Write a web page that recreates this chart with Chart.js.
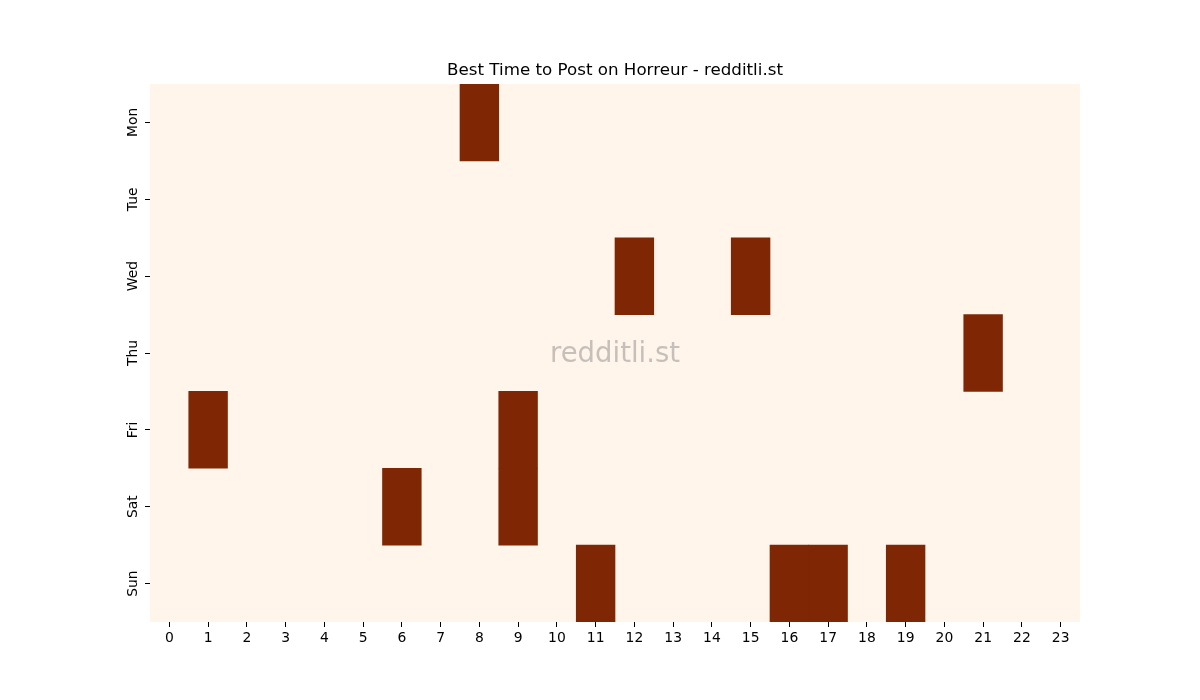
<!DOCTYPE html>
<html>
<head>
<meta charset="utf-8">
<script src="https://cdn.jsdelivr.net/npm/chart.js@4/dist/chart.umd.min.js"></script>
<style>
  html, body { margin: 0; padding: 0; background: #fff; }
  #wrap { width: 1200px; height: 700px; position: relative; }
</style>
</head>
<body>
<div id="wrap"><canvas id="heat"></canvas></div>
<script>
// chart data
var hours = ['0','1','2','3','4','5','6','7','8','9','10','11','12','13','14','15','16','17','18','19','20','21','22','23'];
var days = ['Mon', 'Tue', 'Wed', 'Thu', 'Fri', 'Sat', 'Sun'];

// one row per day, one value per hour (1 = best time)
var mon = [0,0,0,0,0,0,0,0,1,0,0,0,0,0,0,0,0,0,0,0,0,0,0,0];
var tue = [0,0,0,0,0,0,0,0,0,0,0,0,0,0,0,0,0,0,0,0,0,0,0,0];
var wed = [0,0,0,0,0,0,0,0,0,0,0,0,1,0,0,1,0,0,0,0,0,0,0,0];
var thu = [0,0,0,0,0,0,0,0,0,0,0,0,0,0,0,0,0,0,0,0,0,1,0,0];
var fri = [0,1,0,0,0,0,0,0,0,1,0,0,0,0,0,0,0,0,0,0,0,0,0,0];
var sat = [0,0,0,0,0,0,1,0,0,1,0,0,0,0,0,0,0,0,0,0,0,0,0,0];
var sun = [0,0,0,0,0,0,0,0,0,0,0,1,0,0,0,0,1,1,0,1,0,0,0,0];
var rows = [mon, tue, wed, thu, fri, sat, sun];

var titleText = 'Best Time to Post on Horreur - redditli.st';
var watermark = 'redditli.st';

var lowColor = '#fff5eb';
var highColor = '#7f2704';

// each day is a dataset of floating bars spanning its own row
var datasets = rows.map(function(row, d) {
    return {
        label: days[d],
        data: row.map(function(v) { return v ? [d - 0.5, d + 0.5] : null; }),
        backgroundColor: highColor,
        borderWidth: 0,
        borderSkipped: false,
        grouped: false,
        barPercentage: 1,
        categoryPercentage: 1
    };
});

// paint the empty cells, the watermark, the title and the rotated day labels
var heatBg = {
    id: 'heatBg',
    beforeDatasetsDraw: function(chart) {
        var a = chart.chartArea, ctx = chart.ctx;
        ctx.save();
        ctx.fillStyle = lowColor;
        ctx.fillRect(a.left, a.top, a.right - a.left, a.bottom - a.top);
        ctx.restore();
    },
    afterDatasetsDraw: function(chart) {
        var a = chart.chartArea, ctx = chart.ctx;
        var cx = (a.left + a.right) / 2;
        var yScale = chart.scales.y;
        ctx.save();
        ctx.textAlign = 'center';
        ctx.textBaseline = 'middle';
        ctx.font = '27.5px "DejaVu Sans"';
        ctx.fillStyle = 'rgba(128,128,128,0.45)';
        ctx.fillText(watermark, cx, (a.top + a.bottom) / 2 + 2);

        ctx.font = '16.7px "DejaVu Sans"';
        ctx.fillStyle = '#000';
        ctx.textBaseline = 'alphabetic';
        ctx.fillText(titleText, cx, a.top - 9);

        ctx.font = '13.9px "DejaVu Sans"';
        ctx.textBaseline = 'middle';
        days.forEach(function(d, i) {
            var y = yScale.getPixelForValue(i);
            ctx.save();
            ctx.translate(a.left - 17, y);
            ctx.rotate(-Math.PI / 2);
            ctx.fillText(d, 0, 0);
            ctx.restore();
        });
        ctx.restore();
    }
};

var tickFont = { family: 'DejaVu Sans', size: 13.9 };

new Chart(document.getElementById('heat'), {
    type: 'bar',
    data: { labels: hours, datasets: datasets },
    plugins: [heatBg],
    options: {
        responsive: true,
        maintainAspectRatio: false,
        animation: false,
        layout: { padding: { left: 0, right: 120, top: 84, bottom: 0 } },
        plugins: {
            legend: { display: false },
            tooltip: { enabled: false },
            title: { display: false }
        },
        scales: {
            x: {
                type: 'category',
                offset: true,
                border: { display: false },
                grid: { drawOnChartArea: false, offset: false, tickLength: 5, color: '#000', tickWidth: 1 },
                ticks: { color: '#000', font: tickFont, padding: 3, maxRotation: 0, autoSkip: false },
                afterFit: function(s) { s.height = 78; }
            },
            y: {
                type: 'linear',
                reverse: true,
                min: -0.5,
                max: 6.5,
                border: { display: false },
                grid: { drawOnChartArea: false, tickLength: 5, color: '#000', tickWidth: 1 },
                ticks: { display: false },
                afterBuildTicks: function(s) {
                    s.ticks = days.map(function(d, i) { return { value: i }; });
                },
                afterFit: function(s) { s.width = 150; }
            }
        }
    }
});
</script>
</body>
</html>
